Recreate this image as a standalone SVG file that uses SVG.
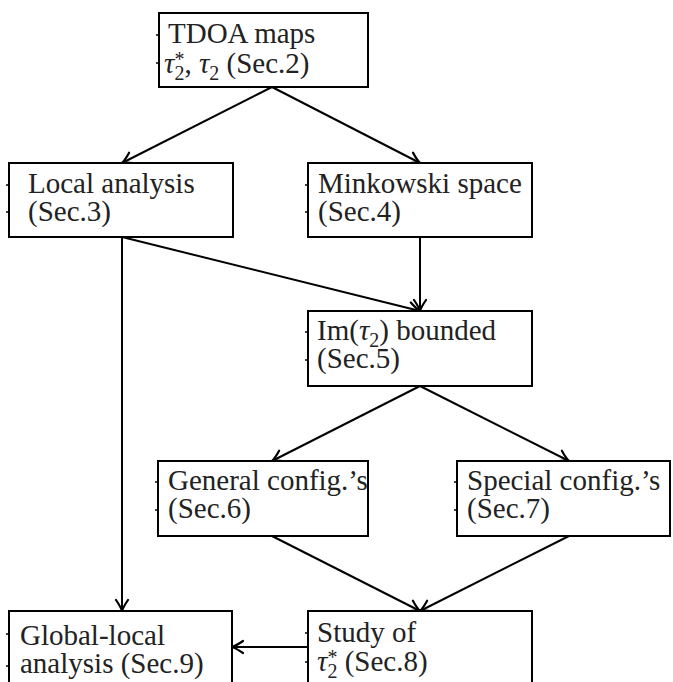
<svg xmlns="http://www.w3.org/2000/svg" width="673" height="682" viewBox="0 0 673 682">
<style>
.box{fill:#fff;stroke:#000;stroke-width:2}
.tick{stroke:#000;stroke-width:1.5}
.t{font-family:"Liberation Serif","DejaVu Serif",serif;font-size:29px;fill:#222}
.i{font-style:italic}
.s{font-size:20px}
.e{stroke:#000;stroke-width:2;fill:none;marker-end:url(#ah)}
</style>
<defs>
<marker id="ah" markerUnits="userSpaceOnUse" markerWidth="16" markerHeight="16" viewBox="-12 -8 14 16" refX="0" refY="0" orient="auto">
<path d="M-11,-6 Q-4,-1.2 0,0 Q-4,1.2 -11,6" fill="none" stroke="#000" stroke-width="2.2" stroke-linecap="round"/>
</marker>
</defs>
<g id="connectors">
<line class="e" x1="272" y1="87" x2="122" y2="163"/>
<line class="e" x1="272" y1="87" x2="420" y2="163"/>
<line class="e" x1="122" y1="237" x2="420" y2="311"/>
<line class="e" x1="420" y1="237" x2="420" y2="311"/>
<line class="e" x1="122" y1="237" x2="122" y2="611"/>
<line class="e" x1="420" y1="386" x2="272" y2="461"/>
<line class="e" x1="420" y1="386" x2="569" y2="461"/>
<line class="e" x1="272" y1="536" x2="420" y2="611"/>
<line class="e" x1="569" y1="536" x2="420" y2="611"/>
<line class="e" x1="308" y1="647" x2="232" y2="647"/>
</g>
<g id="n_tdoa">
<rect class="box" x="159" y="13" width="209" height="74"/>
<line class="tick" x1="156" y1="35" x2="159" y2="35"/>
<line class="tick" x1="156" y1="63" x2="159" y2="63"/>
<text class="t" x="168" y="43">TDOA maps</text>
<text class="t" x="164" y="73"><tspan class="i">τ</tspan><tspan class="s" dy="7">2</tspan><tspan class="s" dx="-10" dy="-14">*</tspan><tspan dy="7">, </tspan><tspan class="i">τ</tspan><tspan class="s" dy="7">2</tspan><tspan dy="-7"> (Sec.2)</tspan></text>
</g>
<g id="n_local">
<rect class="box" x="9" y="163" width="224" height="74"/>
<line class="tick" x1="6" y1="185" x2="9" y2="185"/>
<line class="tick" x1="6" y1="212" x2="9" y2="212"/>
<text class="t" x="28" y="193">Local analysis</text>
<text class="t" x="28" y="221">(Sec.3)</text>
</g>
<g id="n_minkowski">
<rect class="box" x="308" y="163" width="224" height="74"/>
<line class="tick" x1="305" y1="185" x2="308" y2="185"/>
<line class="tick" x1="305" y1="212" x2="308" y2="212"/>
<text class="t" x="318" y="193">Minkowski space</text>
<text class="t" x="318" y="221">(Sec.4)</text>
</g>
<g id="n_im">
<rect class="box" x="308" y="311" width="224" height="75"/>
<line class="tick" x1="305" y1="332" x2="308" y2="332"/>
<line class="tick" x1="305" y1="360" x2="308" y2="360"/>
<text class="t" x="317" y="340">Im(<tspan class="i">τ</tspan><tspan class="s" dy="7">2</tspan><tspan dy="-7">) bounded</tspan></text>
<text class="t" x="317" y="368">(Sec.5)</text>
</g>
<g id="n_general">
<rect class="box" x="158" y="461" width="210" height="75"/>
<line class="tick" x1="155" y1="482" x2="158" y2="482"/>
<line class="tick" x1="155" y1="510" x2="158" y2="510"/>
<text class="t" x="168" y="490">General config.’s</text>
<text class="t" x="168" y="518">(Sec.6)</text>
</g>
<g id="n_special">
<rect class="box" x="457" y="461" width="213" height="75"/>
<line class="tick" x1="454" y1="482" x2="457" y2="482"/>
<line class="tick" x1="454" y1="510" x2="457" y2="510"/>
<text class="t" x="467" y="490">Special config.’s</text>
<text class="t" x="467" y="518">(Sec.7)</text>
</g>
<g id="n_global">
<rect class="box" x="9" y="611" width="223" height="80"/>
<line class="tick" x1="6" y1="634" x2="9" y2="634"/>
<line class="tick" x1="6" y1="666" x2="9" y2="666"/>
<text class="t" x="20" y="645">Global-local</text>
<text class="t" x="20" y="673">analysis (Sec.9)</text>
</g>
<g id="n_study">
<rect class="box" x="308" y="611" width="224" height="80"/>
<line class="tick" x1="305" y1="633" x2="308" y2="633"/>
<line class="tick" x1="305" y1="662" x2="308" y2="662"/>
<text class="t" x="317" y="642">Study of</text>
<text class="t" x="317" y="671"><tspan class="i">τ</tspan><tspan class="s" dy="7">2</tspan><tspan class="s" dx="-10" dy="-14">*</tspan><tspan dy="7"> (Sec.8)</tspan></text>
</g>
</svg>
